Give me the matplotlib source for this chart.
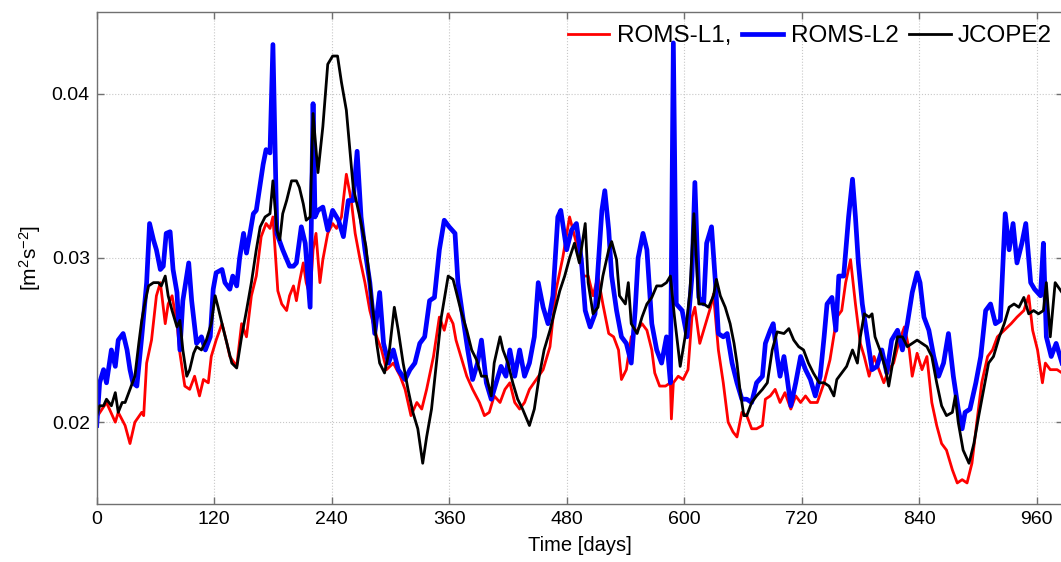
import numpy as np
import matplotlib
matplotlib.use('Agg')
import matplotlib.pyplot as plt

plt.rcParams['font.family'] = ['Liberation Sans', 'DejaVu Sans']
plt.rcParams['mathtext.default'] = 'regular'

# (day, value) pairs
roms_l1 = [(0,0.0203),(10,0.0212),(19,0.0200),(22,0.0206),(29,0.0198),(34,0.0187),(39,0.0200),(46,0.0206),(48,0.0204),(51,0.0236),(56,0.0250),(61,0.0277),(65,0.0285),(70,0.0260),(73,0.0272),(77,0.0277),(82,0.0260),(85,0.0242),(90,0.0222),(95,0.0220),(100,0.0228),(105,0.0216),(109,0.0226),(114,0.0224),(117,0.0240),(122,0.0250),(128,0.0260),(133,0.0248),(136,0.0240),(143,0.0234),(148,0.0260),(153,0.0252),(158,0.0277),(163,0.0289),(168,0.0313),(173,0.0321),(177,0.0318),(180,0.0325),(185,0.0280),(189,0.0272),(194,0.0268),(197,0.0277),(201,0.0283),(204,0.0274),(207,0.0285),(211,0.0297),(214,0.0285),(218,0.0277),(221,0.0305),(224,0.0315),(228,0.0285),(231,0.0299),(236,0.0315),(241,0.0321),(245,0.0318),(250,0.0325),(255,0.0351),(260,0.0335),(264,0.0315),(269,0.0299),(274,0.0285),(279,0.0268),(286,0.0252),(291,0.0244),(296,0.0232),(303,0.0236),(310,0.0228),(315,0.0220),(321,0.0204),(327,0.0212),(332,0.0208),(337,0.0220),(344,0.0240),(350,0.0264),(355,0.0256),(359,0.0266),(364,0.0260),(367,0.0250),(372,0.0240),(378,0.0228),(384,0.0220),(391,0.0212),(396,0.0204),(401,0.0206),(406,0.0216),(412,0.0212),(417,0.0220),(422,0.0224),(427,0.0212),(432,0.0208),(437,0.0212),(442,0.0220),(449,0.0226),(456,0.0232),(463,0.0246),(469,0.0280),(476,0.0300),(483,0.0325),(490,0.0309),(497,0.0289),(502,0.0289),(507,0.0277),(512,0.0289),(517,0.0272),(523,0.0254),(528,0.0252),(533,0.0244),(536,0.0226),(541,0.0232),(546,0.0252),(552,0.0256),(557,0.0260),(562,0.0256),(567,0.0244),(570,0.0230),(575,0.0222),(581,0.0222),(586,0.0224),(587,0.0202),(589,0.0224),(594,0.0228),(599,0.0226),(604,0.0232),(608,0.0264),(611,0.0270),(616,0.0248),(622,0.0260),(627,0.0270),(630,0.0278),(635,0.0244),(640,0.0224),(645,0.0200),(650,0.0194),(654,0.0191),(659,0.0206),(664,0.0204),(669,0.0196),(674,0.0196),(680,0.0198),(683,0.0214),(688,0.0216),(693,0.0220),(698,0.0212),(703,0.0218),(709,0.0208),(714,0.0216),(719,0.0212),(724,0.0216),(729,0.0212),(736,0.0212),(743,0.0224),(749,0.0238),(756,0.0264),(761,0.0268),(765,0.0285),(770,0.0299),(775,0.0272),(780,0.0248),(784,0.0240),(789,0.0228),(794,0.0240),(799,0.0232),(804,0.0224),(809,0.0232),(814,0.0236),(819,0.0248),(825,0.0258),(830,0.0244),(833,0.0228),(838,0.0242),(843,0.0232),(848,0.0240),(853,0.0212),(858,0.0198),(863,0.0187),(868,0.0183),(874,0.0171),(879,0.0163),(884,0.0165),(889,0.0163),(894,0.0175),(899,0.0200),(904,0.0224),(910,0.0240),(915,0.0244),(920,0.0252),(927,0.0256),(934,0.0260),(940,0.0264),(947,0.0268),(952,0.0277),(956,0.0256),(961,0.0244),(966,0.0224),(969,0.0236),(974,0.0232),(981,0.0232),(986,0.0230)]

roms_l2 = [(0,0.0198),(3,0.0224),(7,0.0232),(10,0.0224),(15,0.0244),(19,0.0234),(22,0.0250),(27,0.0254),(31,0.0244),(34,0.0232),(37,0.0224),(41,0.0222),(46,0.0252),(51,0.0285),(54,0.0321),(58,0.0311),(61,0.0305),(65,0.0293),(68,0.0295),(71,0.0315),(75,0.0316),(78,0.0293),(82,0.0279),(85,0.0244),(88,0.0274),(94,0.0297),(97,0.0274),(102,0.0248),(107,0.0252),(111,0.0244),(116,0.0252),(119,0.0281),(122,0.0291),(128,0.0293),(131,0.0285),(136,0.0281),(139,0.0289),(143,0.0283),(146,0.0300),(150,0.0315),(153,0.0303),(156,0.0313),(160,0.0327),(163,0.0329),(167,0.0345),(170,0.0357),(173,0.0366),(177,0.0364),(180,0.0430),(184,0.0315),(190,0.0305),(197,0.0295),(201,0.0295),(204,0.0297),(209,0.0319),(213,0.0309),(218,0.0270),(221,0.0394),(223,0.0325),(226,0.0329),(231,0.0331),(236,0.0317),(241,0.0329),(247,0.0323),(252,0.0313),(257,0.0335),(262,0.0335),(266,0.0365),(270,0.0325),(274,0.0305),(279,0.0285),(284,0.0254),(289,0.0279),(293,0.0248),(298,0.0236),(303,0.0244),(308,0.0232),(315,0.0226),(320,0.0232),(325,0.0236),(330,0.0248),(335,0.0252),(340,0.0274),(345,0.0276),(350,0.0305),(355,0.0323),(360,0.0319),(366,0.0315),(369,0.0285),(374,0.0264),(379,0.0244),(384,0.0226),(389,0.0236),(393,0.0250),(398,0.0224),(403,0.0214),(408,0.0224),(413,0.0234),(418,0.0228),(422,0.0244),(427,0.0228),(432,0.0244),(437,0.0228),(442,0.0236),(447,0.0252),(451,0.0285),(456,0.0270),(461,0.0260),(466,0.0277),(471,0.0325),(474,0.0329),(480,0.0305),(485,0.0317),(490,0.0321),(495,0.0299),(499,0.0268),(504,0.0258),(509,0.0266),(512,0.0293),(516,0.0329),(519,0.0341),(523,0.0317),(526,0.0289),(531,0.0268),(536,0.0252),(541,0.0248),(546,0.0236),(550,0.0268),(553,0.0300),(558,0.0315),(562,0.0305),(567,0.0260),(572,0.0244),(577,0.0236),(582,0.0252),(586,0.0224),(589,0.0431),(592,0.0272),(598,0.0268),(603,0.0252),(608,0.0289),(611,0.0346),(615,0.0276),(620,0.0272),(623,0.0309),(628,0.0319),(632,0.0285),(635,0.0254),(640,0.0252),(644,0.0254),(649,0.0236),(654,0.0224),(659,0.0214),(664,0.0214),(669,0.0212),(674,0.0224),(680,0.0228),(683,0.0248),(688,0.0256),(691,0.0260),(695,0.0240),(698,0.0228),(702,0.0240),(705,0.0228),(709,0.0210),(714,0.0224),(719,0.0240),(724,0.0232),(729,0.0226),(734,0.0216),(739,0.0228),(743,0.0252),(746,0.0272),(751,0.0276),(755,0.0256),(758,0.0289),(763,0.0289),(768,0.0325),(772,0.0348),(775,0.0325),(778,0.0297),(782,0.0272),(787,0.0252),(792,0.0232),(797,0.0234),(802,0.0244),(807,0.0230),(812,0.0250),(818,0.0256),(823,0.0244),(828,0.0260),(833,0.0279),(838,0.0291),(841,0.0285),(845,0.0264),(850,0.0256),(855,0.0240),(860,0.0228),(865,0.0236),(870,0.0254),(875,0.0228),(880,0.0208),(884,0.0196),(887,0.0206),(892,0.0208),(898,0.0224),(903,0.0240),(908,0.0268),(913,0.0272),(918,0.0260),(923,0.0262),(928,0.0327),(932,0.0305),(936,0.0321),(940,0.0297),(945,0.0309),(949,0.0321),(954,0.0285),(958,0.0281),(964,0.0277),(967,0.0309),(970,0.0252),(975,0.0240),(980,0.0248),(986,0.0236)]

jcope2 = [(0,0.0204),(3,0.0210),(7,0.0210),(10,0.0214),(15,0.0210),(19,0.0218),(22,0.0206),(26,0.0212),(29,0.0212),(34,0.0220),(39,0.0228),(43,0.0248),(46,0.0262),(49,0.0272),(53,0.0283),(58,0.0285),(63,0.0285),(66,0.0283),(70,0.0289),(73,0.0277),(77,0.0268),(82,0.0258),(85,0.0262),(88,0.0244),(92,0.0228),(95,0.0232),(99,0.0242),(102,0.0246),(107,0.0244),(112,0.0250),(117,0.0260),(121,0.0277),(124,0.0270),(128,0.0260),(133,0.0248),(138,0.0236),(143,0.0233),(148,0.0252),(153,0.0268),(158,0.0285),(163,0.0305),(167,0.0319),(172,0.0325),(177,0.0327),(180,0.0347),(184,0.0317),(187,0.0311),(190,0.0327),(194,0.0335),(199,0.0347),(204,0.0347),(207,0.0343),(211,0.0333),(214,0.0323),(218,0.0325),(221,0.0388),(226,0.0352),(231,0.0380),(236,0.0418),(241,0.0423),(246,0.0423),(250,0.0407),(255,0.0390),(262,0.0343),(268,0.0327),(275,0.0307),(281,0.0274),(286,0.0248),(289,0.0236),(294,0.0230),(299,0.0244),(304,0.0270),(308,0.0256),(313,0.0236),(318,0.0220),(323,0.0206),(328,0.0196),(333,0.0175),(337,0.0191),(342,0.0208),(347,0.0236),(352,0.0264),(359,0.0289),(364,0.0287),(367,0.0280),(372,0.0268),(378,0.0256),(383,0.0244),(388,0.0238),(393,0.0228),(398,0.0228),(403,0.0216),(406,0.0236),(412,0.0252),(415,0.0244),(420,0.0236),(425,0.0224),(430,0.0214),(435,0.0208),(442,0.0198),(447,0.0208),(452,0.0228),(457,0.0244),(463,0.0256),(468,0.0268),(473,0.0280),(478,0.0289),(483,0.0300),(488,0.0309),(493,0.0297),(499,0.0321),(502,0.0285),(507,0.0266),(512,0.0270),(517,0.0289),(523,0.0305),(526,0.0310),(531,0.0299),(534,0.0277),(540,0.0272),(543,0.0285),(546,0.0260),(552,0.0254),(557,0.0264),(562,0.0272),(567,0.0276),(572,0.0283),(577,0.0283),(582,0.0285),(586,0.0289),(590,0.0265),(596,0.0234),(601,0.0252),(606,0.0280),(610,0.0327),(615,0.0272),(620,0.0272),(625,0.0270),(630,0.0277),(633,0.0287),(637,0.0277),(642,0.0270),(647,0.0260),(651,0.0248),(654,0.0236),(657,0.0220),(661,0.0204),(664,0.0204),(669,0.0212),(674,0.0216),(680,0.0220),(685,0.0224),(690,0.0244),(695,0.0255),(702,0.0254),(707,0.0257),(712,0.0250),(717,0.0246),(722,0.0244),(727,0.0236),(732,0.0230),(738,0.0224),(743,0.0224),(748,0.0222),(753,0.0216),(756,0.0226),(761,0.0230),(766,0.0234),(772,0.0244),(777,0.0236),(780,0.0252),(784,0.0266),(789,0.0264),(792,0.0266),(795,0.0252),(800,0.0244),(806,0.0232),(809,0.0222),(813,0.0236),(818,0.0252),(823,0.0252),(828,0.0246),(833,0.0248),(838,0.0250),(843,0.0248),(848,0.0246),(853,0.0240),(858,0.0224),(863,0.0210),(868,0.0204),(874,0.0206),(877,0.0216),(880,0.0200),(885,0.0183),(891,0.0175),(896,0.0187),(901,0.0204),(906,0.0220),(911,0.0236),(916,0.0240),(922,0.0252),(927,0.0260),(932,0.0270),(937,0.0272),(942,0.0270),(947,0.0276),(952,0.0266),(957,0.0268),(962,0.0266),(967,0.0268),(970,0.0285),(974,0.0252),(979,0.0285),(986,0.0279)]

x_ticks = [0, 120, 240, 360, 480, 600, 720, 840, 960]
y_ticks = [0.02, 0.03, 0.04]

W, H = 1061, 562
fig = plt.figure(figsize=(W / 100, H / 100), dpi=100)
# axes box in pixels: left 96.7, right 1062.5 (just past the image edge), top 11.7, bottom 504.3
ax = fig.add_axes([96.7 / W, (H - 504.3) / H, (1062.5 - 96.7) / W, (504.3 - 11.7) / H])

for data, color, lw, label in [(roms_l1, '#ff0000', 2.0, 'ROMS-L1,'),
                               (roms_l2, '#0000ff', 3.4, 'ROMS-L2'),
                               (jcope2, 'black', 2.0, 'JCOPE2')]:
    d = np.array(data)
    ax.plot(d[:, 0], d[:, 1], color=color, lw=lw, label=label)

ax.set_xlim(0, 986.5)
ax.set_ylim(0.015, 0.045)
ax.set_xticks(x_ticks)
ax.set_yticks(y_ticks)
ax.set_yticklabels(['0.02', '0.03', '0.04'])

ax.grid(True, linestyle=':', color='#c8c8c8', linewidth=0.8)
ax.tick_params(direction='in', length=5, width=1, color='#707070',
               top=True, right=True, labelsize=14, pad=5)
for s in ax.spines.values():
    s.set_color('#707070')
    s.set_linewidth(1)

ax.set_xlabel('Time [days]', fontsize=14.5)
ax.xaxis.set_label_coords(0.5, -0.083)
ax.xaxis.label.set_va('center')
ax.set_ylabel('[m$^2$s$^{-2}$]', fontsize=15)
ax.yaxis.set_label_coords(-0.069, 0.5)
ax.yaxis.label.set_va('center')

leg = ax.legend(loc='center right', bbox_to_anchor=(1052 / W, 1 - 36 / H),
                bbox_transform=fig.transFigure, ncol=3, frameon=False,
                fontsize=17.5, handlelength=1.7, handletextpad=0.3,
                columnspacing=0.45, borderpad=0, borderaxespad=0)

fig.savefig('out.png', dpi=100)
